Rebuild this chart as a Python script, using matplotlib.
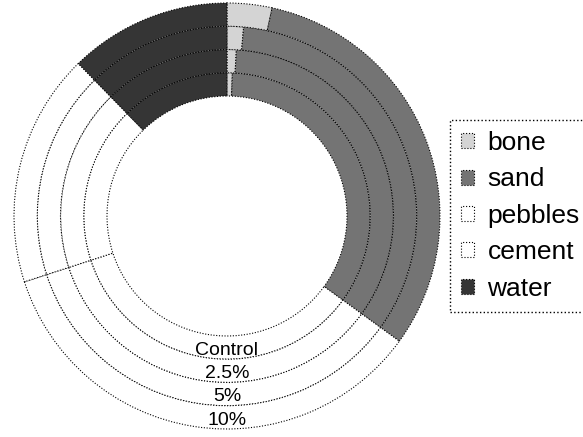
import numpy as np
import matplotlib
matplotlib.use('Agg')
from matplotlib import pyplot as plt
from matplotlib.patches import Patch

plt.rcParams['font.family'] = ['Liberation Sans', 'DejaVu Sans']

# mix proportions (% of total)
components = ['bone', 'sand', 'pebbles', 'cement', 'water']
rings = ['Control', '2.5%', '5%', '10%']          # inner -> outer
bone = [0.6, 0.9, 1.4, 3.4]
sand = [34.4, 34.1, 33.6, 31.6]
pebbles = [35.0, 35.0, 35.0, 35.0]
cement = [17.7, 17.7, 17.7, 17.7]
water = [12.3, 12.3, 12.3, 12.3]

colors = ['#d4d4d4', '#747474', 'white', 'white', '#353535']

W, H = 583, 437
fig = plt.figure(figsize=(W / 100, H / 100), dpi=100)
cx, cy, R = 227, 216, 213
ax = fig.add_axes([(cx - R) / W, (H - cy - R) / H, 2 * R / W, 2 * R / H])

r_in = 120 / 213
w = (1 - r_in) / len(rings)

for i, name in enumerate(rings):
    r = r_in + (i + 1) * w
    vals = [bone[i], sand[i], pebbles[i], cement[i], water[i]]
    ax.pie(vals, radius=r, colors=colors, startangle=90, counterclock=False,
           wedgeprops=dict(width=w, edgecolor='black', linewidth=0.8,
                           linestyle=(0, (1, 1.5))))
    # ring label sits a touch below the ring middle
    ax.text(0, -(r - w / 2) - 0.013, name, ha='center', va='center', fontsize=14)

ax.set_xlim(-1, 1)
ax.set_ylim(-1, 1)
ax.set_aspect('equal')
ax.axis('off')

handles = [Patch(facecolor=c, edgecolor='black', linestyle=':', linewidth=0.8)
           for c in colors]
leg = fig.legend(handles, components, loc='upper left',
                 bbox_to_anchor=(450 / W, 1 - 120 / H), fontsize=19,
                 handlelength=0.5, handleheight=0.5, handletextpad=0.5,
                 labelspacing=0.47, borderpad=0.42, borderaxespad=0,
                 fancybox=False, framealpha=1)
leg.get_frame().set_edgecolor('black')
leg.get_frame().set_linestyle(':')
leg.get_frame().set_linewidth(1.0)

fig.savefig('out.png', dpi=100)
